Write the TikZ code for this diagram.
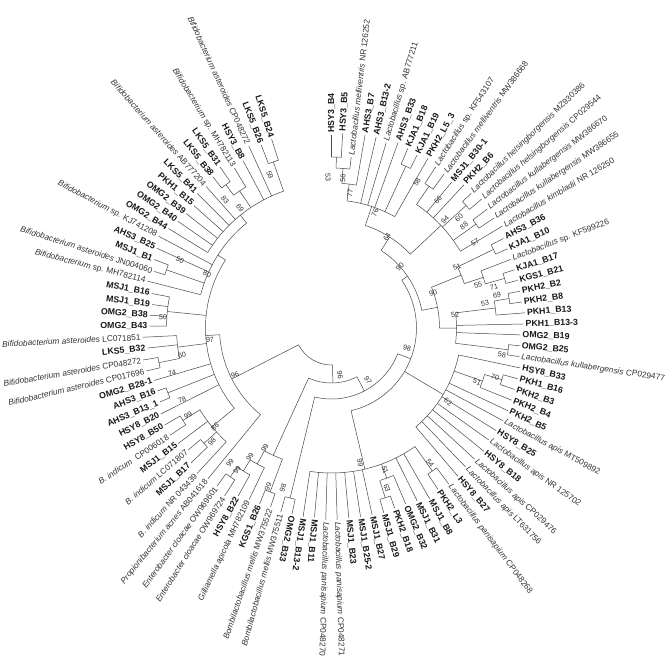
\documentclass[tikz,border=0pt]{standalone}
\usepackage{fontspec}
\setmainfont{Liberation Sans}
\tikzset{
  br/.style={line width=0.5pt, draw=black!72},
  leafb/.style={font=\fontsize{8.8}{9}\selectfont\bfseries, text=black!90, inner sep=0pt},
  leafr/.style={font=\fontsize{8.3}{9}\selectfont, text=black!80, inner sep=0pt},
  bslab/.style={font=\fontsize{7.2}{8}\selectfont, text=black!80, inner sep=0pt},
}
\newcommand\tsetv[3]{\expandafter\xdef\csname tv@#1@#2\endcsname{#3}}
\newcommand\tgetv[2]{\csname tv@#1@#2\endcsname}
% leaf: index, tip radius, style (b/r), text
\newcommand\lf[4]{%
  \pgfmathsetmacro\lfA{(#1<37.5)?(90-(#1-1)*3.289):((#1<54.5)?(-28.4-(#1-37)*3.524):(-88.3-(#1-54)*3.419))}%
  \tsetv{a}{L#1}{\lfA}%
  \coordinate (L#1) at (\lfA:#2pt);%
  \pgfmathsetmacro\lfR{#2+2}%
  \ifdim\lfA pt>-103pt
    \node[leaf#3,anchor=west,rotate=\lfA] (T#1) at (\lfA:\lfR pt) {#4};%
  \else
    \pgfmathsetmacro\lfB{\lfA+180}%
    \node[leaf#3,anchor=east,rotate=\lfB] (T#1) at (\lfA:\lfR pt) {#4};%
  \fi
}
% internal node: name, radius, children
\newcommand\nd[3]{%
  \gdef\ndmin{1000}\gdef\ndmax{-1000}%
  \foreach \ch in {#3}{%
    \pgfmathsetmacro\acc{\tgetv{a}{\ch}}%
    \pgfmathsetmacro\tmpmin{min(\ndmin,\acc)}\xdef\ndmin{\tmpmin}%
    \pgfmathsetmacro\tmpmax{max(\ndmax,\acc)}\xdef\ndmax{\tmpmax}%
  }%
  \pgfmathsetmacro\aM{(\ndmin+\ndmax)/2}%
  \draw[br] (\ndmax:#2pt) arc[start angle=\ndmax, end angle=\ndmin, radius=#2pt];%
  \foreach \ch in {#3}{%
    \pgfmathsetmacro\acc{\tgetv{a}{\ch}}%
    \draw[br] (\acc:#2pt) -- (\ch);%
  }%
  \coordinate (#1) at (\aM:#2pt);%
  \tsetv{a}{#1}{\aM}%
}
\newcount\bsn
% bootstrap label: text, x, y (image pixels)
\newcommand\bs[3]{%
  \global\advance\bsn by 1
  \pgfmathsetmacro\bsA{atan2(328-#3,#2-331.5)}%
  \ifdim\bsA pt>-103pt
    \ifdim\bsA pt<90.5pt
      \node[bslab,rotate=\bsA] (bs\the\bsn) at (#2pt,-#3pt) {#1};%
    \else
      \pgfmathsetmacro\bsB{\bsA+180}%
      \node[bslab,rotate=\bsB] (bs\the\bsn) at (#2pt,-#3pt) {#1};%
    \fi
  \else
    \pgfmathsetmacro\bsB{\bsA+180}%
    \node[bslab,rotate=\bsB] (bs\the\bsn) at (#2pt,-#3pt) {#1};%
  \fi
}
\begin{document}
\begin{tikzpicture}
\fill[white] (0,0) rectangle (669pt,-658pt);
\useasboundingbox (0,0) rectangle (669pt,-658pt);
\begin{scope}[shift={(331.5pt,-328pt)}]
\lf{1}{193}{b}{HSY3\_B4}
\lf{2}{195}{b}{HSY3\_B5}
\lf{3}{172}{r}{\textit{Lactobacillus melliventris} NR 126252}
\lf{4}{196}{b}{AHS3\_B7}
\lf{5}{196}{b}{AHS3\_B13-2}
\lf{6}{193}{r}{\textit{Lactobacillus} sp. AB777211}
\lf{7}{197}{b}{AHS3\_B33}
\lf{8}{195}{b}{KJA1\_B18}
\lf{9}{193}{b}{KJA1\_B19}
\lf{10}{195}{b}{PKH2\_L5\_3}
\lf{11}{192}{r}{\textit{Lactobacillus} sp. KF543107}
\lf{12}{191}{r}{\textit{Lactobacillus melliventris} MW386668}
\lf{13}{189}{b}{MSJ1\_B30-1}
\lf{14}{195}{b}{PKH2\_B6}
\lf{15}{194}{r}{\textit{Lactobacillus helsingborgensis} MZ930386}
\lf{16}{198}{r}{\textit{Lactobacillus helsingborgensis} CP029544}
\lf{17}{196}{r}{\textit{Lactobacillus kullabergensis} MW386670}
\lf{18}{196}{r}{\textit{Lactobacillus kullabergensis} MW386655}
\lf{19}{199}{r}{\textit{Lactobacillus kimbladii} NR 126250}
\lf{20}{194}{b}{AHS3\_B36}
\lf{21}{193}{b}{KJA1\_B10}
\lf{22}{192}{r}{\textit{Lactobacillus} sp. KF599226}
\lf{23}{192}{b}{KJA1\_B17}
\lf{24}{192}{b}{KGS1\_B21}
\lf{25}{192}{b}{PKH2\_B2}
\lf{26}{192}{b}{PKH2\_B8}
\lf{27}{194}{b}{PKH1\_B13}
\lf{28}{192}{b}{PKH1\_B13-3}
\lf{29}{189}{b}{OMG2\_B19}
\lf{30}{189}{b}{OMG2\_B25}
\lf{31}{190}{r}{\textit{Lactobacillus kullabergensis} CP029477}
\lf{32}{193}{b}{HSY8\_B33}
\lf{33}{193}{b}{PKH1\_B16}
\lf{34}{193}{b}{PKH2\_B3}
\lf{35}{194}{b}{PKH2\_B4}
\lf{36}{195}{b}{PKH2\_B5}
\lf{37}{195}{r}{\textit{Lactobacillus apis} MT509892}
\lf{38}{194}{b}{HSY8\_B25}
\lf{39}{193}{r}{\textit{Lactobacillus apis} NR 125702}
\lf{40}{196}{b}{HSY8\_B18}
\lf{41}{194}{r}{\textit{Lactobacillus apis} CP029476}
\lf{42}{193}{r}{\textit{Lactobacillus apis} LT631756}
\lf{43}{195}{b}{HSY8\_B27}
\lf{44}{195}{r}{\textit{Lactobacillus panisapium} CP048268}
\lf{45}{193}{b}{PKH2\_L3}
\lf{46}{197}{b}{MSJ1\_B8}
\lf{47}{193}{b}{MSJ1\_B31}
\lf{48}{191}{b}{OMG2\_B32}
\lf{49}{191}{b}{PKH2\_B18}
\lf{50}{192}{b}{MSJ1\_B29}
\lf{51}{191}{b}{MSJ1\_B27}
\lf{52}{191}{b}{MSJ1\_B25-2}
\lf{53}{191}{b}{MSJ1\_B23}
\lf{54}{192}{r}{\textit{Lactobacillus panisapium} CP048271}
\lf{55}{192}{r}{\textit{Lactobacillus panisapium} CP048270}
\lf{56}{190}{b}{MSJ1\_B11}
\lf{57}{191}{b}{MSJ1\_B13-2}
\lf{58}{190}{b}{OMG2\_B33}
\lf{59}{191}{r}{\textit{Bombilactobacillus mellis} MW375511}
\lf{60}{189}{r}{\textit{Bombilactobacillus mellis} MW375522}
\lf{61}{190}{b}{KGS1\_B26}
\lf{62}{190}{r}{\textit{Gilliamella apicola} MH782109}
\lf{63}{192}{b}{HSY8\_B22}
\lf{64}{199}{r}{\textit{Enterobacter cloacae} OW969724}
\lf{65}{195}{r}{\textit{Enterobacter cloacae} OW969601}
\lf{66}{195}{r}{\textit{Propionibacterium acnes} AB041618}
\lf{67}{198}{r}{\textit{B. indicum} NR 043439}
\lf{68}{195}{b}{MSJ1\_B17}
\lf{69}{188}{r}{\textit{B. indicum} LC071807}
\lf{70}{192}{b}{MSJ1\_B15}
\lf{71}{194}{r}{\textit{B. indicum}\ \ CP006018}
\lf{72}{193}{b}{HSY8\_B50}
\lf{73}{191}{b}{HSY8\_B20}
\lf{74}{187}{b}{AHS3\_B13\_1}
\lf{75}{185}{b}{AHS3\_B16}
\lf{76}{185}{b}{OMG2\_B28-1}
\lf{77}{190}{r}{\textit{Bifidobacterium asteroides} CP017696}
\lf{78}{191}{r}{\textit{Bifidobacterium asteroides} CP048272}
\lf{79}{185}{b}{LKS5\_B32}
\lf{80}{189}{r}{\textit{Bifidobacterium asteroides} LC071851}
\lf{81}{182}{b}{OMG2\_B43}
\lf{82}{182}{b}{OMG2\_B38}
\lf{83}{181}{b}{MSJ1\_B19}
\lf{84}{183}{b}{MSJ1\_B16}
\lf{85}{190}{r}{\textit{Bifidobacterium} sp. MH782114}
\lf{86}{186}{r}{\textit{Bifidobacterium asteroides} JN004060}
\lf{87}{190}{b}{MSJ1\_B1}
\lf{88}{192}{b}{AHS3\_B25}
\lf{89}{196}{r}{\textit{Bifidobacterium} sp. KJ741208}
\lf{90}{191}{b}{OMG2\_B44}
\lf{91}{187}{b}{OMG2\_B40}
\lf{92}{185}{b}{OMG2\_B39}
\lf{93}{184}{b}{PKH1\_B15}
\lf{94}{190}{b}{LKS5\_B41}
\lf{95}{189}{r}{\textit{Bifidobacterium asteroides} AB777204}
\lf{96}{192}{b}{LKS5\_B38}
\lf{97}{196}{b}{LKS5\_B31}
\lf{98}{187}{r}{\textit{Bifidobacterium} sp. MH782113}
\lf{99}{189}{b}{HSY3\_B8}
\lf{100}{200}{r}{\textit{Bifidobacterium asteroides} CP048272}
\lf{101}{196}{b}{LKS5\_B26}
\lf{102}{198}{b}{LKS5\_B24}
% right side
\nd{n53}{171}{L1,L2}
\nd{n56}{160}{n53,L3}
\nd{n77}{145}{n56,L4}
\nd{n58a}{178}{L8,L9}
\nd{n76}{128}{n77,L5,L6,L7,n58a,L10}
\nd{n66}{172}{L11,L12}
\nd{n60r}{182}{L15,L16}
\nd{n88}{178}{L17,L18}
\nd{n94}{150}{n66,L13,L14,n60r,n88,L19}
\nd{n64}{108}{n76,n94}
\nd{n57}{180}{L20,L21}
\nd{n71}{180}{L23,L24}
\nd{n55}{160}{L22,n71}
\nd{n51}{140}{n57,n55}
\nd{n69}{180}{L25,L26}
\nd{n53b}{165}{n69,L27}
\nd{n58b}{178}{L30,L31}
\nd{n52}{125}{n53b,L28,L29,n58b}
\nd{n90b}{108}{n51,n52}
\nd{n90a}{92}{n64,n90b}
\nd{n70}{178}{L33,L34}
\nd{n51b}{160}{n70,L35}
\nd{n62}{130}{L32,n51b,L36,L37,L38,L39,L40,L41,L42,L43}
\nd{n54}{175}{L44,L45}
\nd{n63}{178}{L49,L50}
\nd{n51c}{160}{L48,n63}
\nd{n99}{145}{n54,L46,L47,n51c,L51,L52,L53,L54,L55,L56,L57}
\nd{nX}{85}{n90a,n62,n99}
\nd{n98b}{175}{L58,L59}
\nd{n97c}{71}{nX,n98b}
\nd{n99x}{175}{L60,L61}
\nd{nEnt}{180}{L64,L65}
\nd{nHSY}{168}{L63,nEnt}
\nd{nGill}{155}{L62,nHSY}
\nd{nBL}{140}{n99x,nGill}
\nd{n96c}{55}{n97c,nBL}
% left side
\nd{n59}{176}{L101,L102}
\nd{n83}{178}{L96,L97}
\nd{n69b}{165}{n83,L98}
\nd{nTop}{145}{L90,L91,L92,L93,L94,L95,n69b,L99,L100,n59}
\nd{n50a}{175}{L86,L87}
\nd{n80}{135}{nTop,L89,L88,n50a,L85}
\nd{n50b}{165}{L81,L82,L83,L84}
\nd{n74}{176}{L77,L78}
\nd{n60}{155}{L79,L80,n74}
\nd{n78}{176}{L74,L75}
\nd{n99i}{175}{L71,L72}
\nd{n98i}{172}{L68,L69}
\nd{n86}{155}{n99i,L70,n98i,L67}
\nd{n97L}{126}{n80,n50b,n60,L76,n78,L73,n86}
\nd{n96L}{112}{n97L,L66}
\nd{nR}{37}{n96L,n96c}
\end{scope}
% bootstrap values
\bs{53}{328}{177}
\bs{56}{343}{178}
\bs{77}{350}{193}
\bs{76}{375}{213}
\bs{58}{417}{182}
\bs{66}{438}{200}
\bs{94}{445}{220}
\bs{60}{459}{218}
\bs{88}{464}{226}
\bs{64}{387}{237}
\bs{90}{400}{267}
\bs{57}{475}{242}
\bs{51}{457}{267}
\bs{55}{478}{285}
\bs{71}{494}{287}
\bs{69}{497}{295}
\bs{53}{485}{303}
\bs{52}{455}{315}
\bs{58}{502}{355}
\bs{90}{433}{293}
\bs{98}{407}{348}
\bs{97}{368}{380}
\bs{96}{340}{375}
\bs{62}{448}{402}
\bs{51}{477}{382}
\bs{70}{495}{377}
\bs{54}{430}{463}
\bs{51}{385}{470}
\bs{63}{387}{488}
\bs{99}{360}{463}
\bs{99}{265}{448}
\bs{99}{250}{457}
\bs{99}{237}{470}
\bs{99}{230}{463}
\bs{99}{268}{487}
\bs{98}{283}{488}
\bs{96}{235}{375}
\bs{97}{210}{340}
\bs{80}{207}{274}
\bs{50}{180}{260}
\bs{50}{163}{317}
\bs{60}{182}{355}
\bs{74}{172}{373}
\bs{78}{182}{400}
\bs{99}{188}{415}
\bs{86}{215}{427}
\bs{98}{212}{442}
\bs{83}{225}{200}
\bs{69}{240}{208}
\bs{59}{270}{175}
\end{tikzpicture}
\end{document}
